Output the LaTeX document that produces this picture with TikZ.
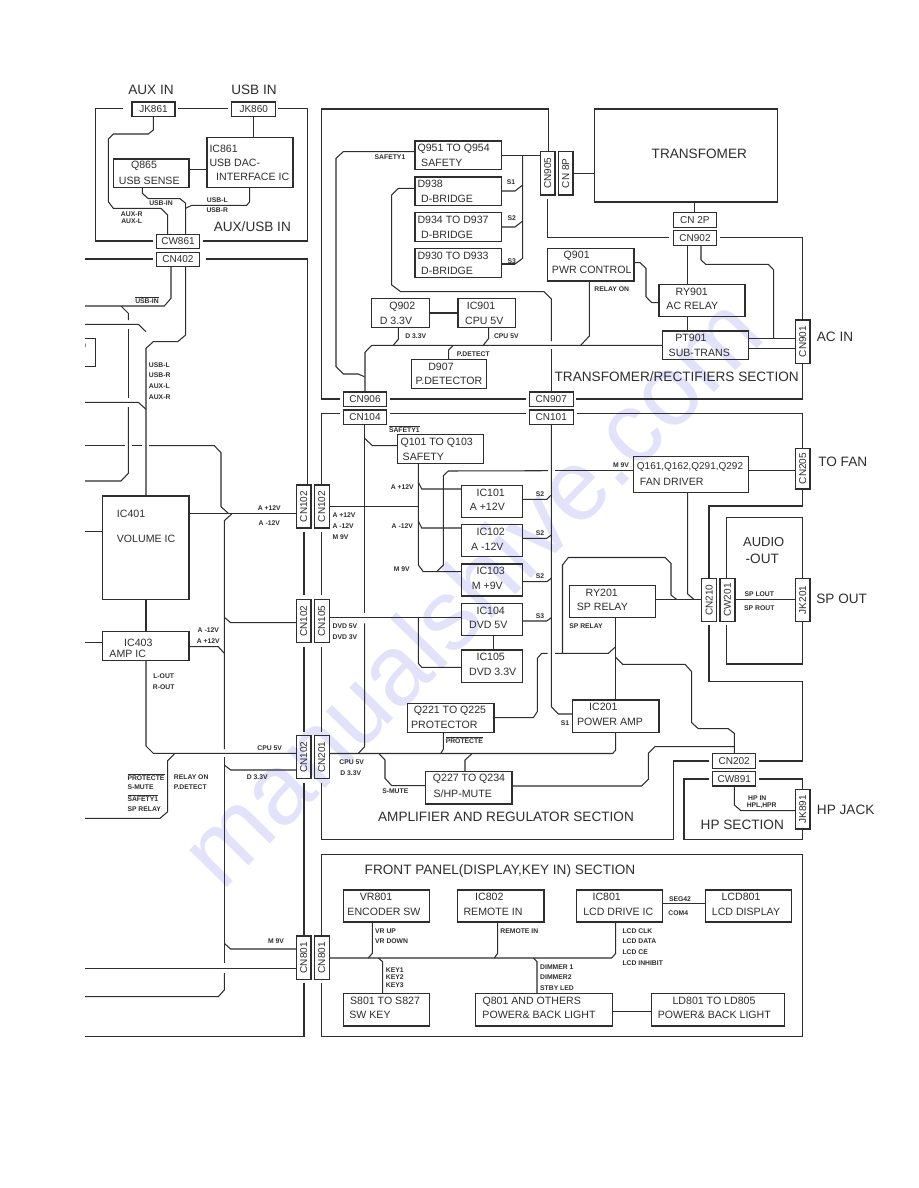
\documentclass[tikz,border=0pt]{standalone}
\usepackage{fontspec}
\usepackage{graphicx}
\newfontfamily\fm[WordSpace=1.6]{Liberation Sans}
\newfontfamily\wm{Liberation Sans}
\newcounter{tn}
\definecolor{ink}{gray}{0.18}
\definecolor{wmark}{RGB}{226,226,251}
\tikzset{
 ln/.style={draw=ink,line width=1.05pt,line join=miter},
 fr/.style={draw=ink,line width=1.05pt},
 bxst/.style={draw=ink,line width=1.15pt,inner sep=0pt,outer sep=0pt,text=ink},
 bt/.style={font=\fm\fontsize{10.6}{10.6}\selectfont,inner sep=0pt,text=ink},
 cn/.style={font=\fm\fontsize{10}{10}\selectfont},
 big/.style={font=\fm\fontsize{13.6}{13.6}\selectfont,inner sep=0pt,text=ink},
 sm/.style={font=\fm\bfseries\fontsize{6.8}{6.8}\selectfont,inner sep=0pt,text=ink},
}
\newcommand\bx[5]{\node[bxst,minimum width={#4-#2},minimum height={#5-#3}] (#1) at ({(#2+#4)/2},{(#3+#5)/2}) {};}
\newcommand\cnh[6]{\node[bxst,cn,minimum width={#4-#2},minimum height={#5-#3}] (#1) at ({(#2+#4)/2},{(#3+#5)/2}) {#6};}
\newcommand\cnv[6]{\node[bxst,cn,minimum width={#4-#2},minimum height={#5-#3}] (#1) at ({(#2+#4)/2},{(#3+#5)/2}) {\rotatebox{90}{#6}};}
\newcommand\T[4]{\stepcounter{tn}\node[#1] (t\arabic{tn}) at (#2,#3) {#4};}
\newcommand\ovl[1]{$\overline{\hbox{#1}}$}
\begin{document}
\begin{tikzpicture}[x=1pt,y=-1pt]
\useasboundingbox (0,0) rectangle (918,1188);
\fill[white] (0,0) rectangle (918,1188);
% watermark
\node[rotate=45.5,text=wmark,inner sep=0pt,font=\wm\fontsize{100}{100}\selectfont] (wmk) at (470,590) {manualshive.com};

% frames
\draw[fr] (123,108.7)--(95.7,108.7)--(95.7,241)--(153,241);
\draw[fr] (178,108.7)--(228,108.7);
\draw[fr] (278,108.7)--(307.3,108.7)--(307.3,241)--(202.7,241);
\draw[fr] (85,259)--(153,259);
\draw[fr] (206,259)--(307.3,259)--(307.3,485);
\draw[fr] (304,531.7)--(304,595);
\draw[fr] (304,646.7)--(304,731.7);
\draw[fr] (304,782.7)--(304,936);
\draw[fr] (304,982.7)--(304,1036.7)--(85,1036.7);
% amplifier frame
\draw[fr] (340,413.3)--(321.7,413.3)--(321.7,485);
\draw[fr] (321.7,531.7)--(321.7,595);
\draw[fr] (321.7,646.7)--(321.7,731.7);
\draw[fr] (321.7,782.7)--(321.7,839.3)--(673.3,839.3)--(673.3,761)--(709.3,761);
\draw[fr] (390,413.3)--(526,413.3);
\draw[fr] (576.7,413.3)--(802.3,413.3)--(802.3,448.3);
\draw[fr] (802.3,489)--(802.3,506)--(709,506)--(709,578.3);
\draw[fr] (709,625)--(709,681.7)--(802.3,681.7)--(802.3,761)--(759,761);
% front panel frame
\draw[fr] (321.7,936)--(321.7,854.3)--(802.3,854.3)--(802.3,1036.7)--(321.7,1036.7)--(321.7,982.7);
% transformer frame
\draw[fr] (548.3,151.7)--(548.3,109)--(321.7,109)--(321.7,399)--(340,399);
\draw[fr] (390,399)--(526,399);
\draw[fr] (576,399)--(802.3,399)--(802.3,363.3);
\draw[fr] (802.3,320)--(802.3,237.7)--(720,237.7);
\draw[fr] (669.3,237.7)--(547.3,237.7)--(547.3,199);
% audio frame
\draw[fr] (726.7,578.3)--(726.7,517.7)--(802.3,517.7)--(802.3,578.3);
\draw[fr] (726.7,625)--(726.7,664)--(802.3,664)--(802.3,621.7);
% HP frame
\draw[fr] (709.3,779)--(684,779)--(684,839.3)--(802.3,839.3)--(802.3,829);
\draw[fr] (802.3,789.3)--(802.3,779)--(759,779);

% connector boxes
\cnh{JKe}{132}{102}{175}{116.3}{JK861}
\cnh{JKz}{231.7}{102}{275.7}{116.3}{JK860}
\cnh{CWe}{156.7}{234.3}{199.3}{248.7}{CW861}
\cnh{CNf}{156.7}{252.3}{199.3}{266.7}{CN402}
\cnh{CNs}{343.3}{392}{386.7}{406.3}{CN906}
\cnh{CNt}{343.3}{410}{386.7}{424.3}{CN104}
\cnh{CNu}{529.3}{392}{573.3}{406.3}{CN907}
\cnh{CNv}{529.3}{410}{573.3}{424.3}{CN101}
\cnv{CNg}{540.3}{151.7}{555}{195}{CN905}
\cnv{CNp}{558.3}{151.7}{573}{195}{CN 8P}
\cnh{CNq}{673.3}{212.7}{716.3}{227.3}{CN 2P}
\cnh{CNr}{673.3}{230.7}{716.7}{245.3}{CN902}
\cnv{CNac}{795.3}{320}{810}{363.3}{CN901}
\cnv{CNfan}{795.3}{448.3}{810}{489}{CN205}
\cnv{CNa}{296.3}{485}{311}{528}{CN102}
\cnv{CNb}{314.3}{485}{329.3}{528}{CN102}
\cnv{CNc}{296.3}{599.3}{311}{642.7}{CN102}
\cnv{CNd}{314.3}{599.3}{329.3}{642.7}{CN105}
\cnv{CNi}{296.3}{735.7}{311}{778.7}{CN102}
\cnv{CNj}{314.3}{735.7}{329.3}{778.7}{CN201}
\cnv{CNk}{296.3}{936}{311}{979.3}{CN801}
\cnv{CNl}{314.3}{936}{329.3}{979.3}{CN801}
\cnv{CNm}{701.7}{578.3}{716.7}{621.7}{CN210}
\cnv{CWm}{720}{578.3}{735}{621.7}{CW201}
\cnv{JKm}{795.3}{578.3}{810}{621.7}{JK201}
\cnh{CNh}{712.7}{753.7}{755.7}{768.3}{CN202}
\cnh{CWh}{712.7}{771.7}{755.7}{786}{CW891}
\cnv{JKh}{795.3}{789.3}{810}{829}{JK891}

% function boxes
\bx{IC861}{207}{137.3}{293}{187.7}
\bx{Q865}{113.7}{159}{189}{187.7}
\bx{Q951}{415}{141}{501.7}{169.7}
\bx{D938}{415}{177}{501.7}{205.7}
\bx{D934}{415}{212.7}{501.7}{241.7}
\bx{D930}{415}{248.7}{501.7}{277.3}
\bx{Q902}{371.7}{298.7}{429.3}{327.3}
\bx{IC901}{458}{298.7}{515.7}{327.3}
\bx{D907}{411.3}{359.3}{486.7}{388.3}
\node[bxst,minimum width=183,minimum height=93] (TR) at (685.8,155.5) {};
\bx{Q901}{547.3}{248.7}{634}{281}
\bx{RY901}{659}{284.3}{745}{316.7}
\bx{PT901}{662.3}{331}{748.3}{359.7}
\bx{Q101}{397.3}{434.7}{483.3}{463.3}
\bx{IC101}{461.7}{485.3}{522.3}{517.3}
\bx{IC102}{461.7}{524.7}{522.3}{556.7}
\bx{IC103}{461.7}{564}{522.3}{596}
\bx{IC104}{461.7}{603.3}{522.3}{635.3}
\bx{IC105}{461.7}{650}{522.3}{682.3}
\bx{Q221}{407.7}{703.7}{494}{732.3}
\bx{Q227}{425.7}{771.7}{512}{804}
\bx{IC201}{572.7}{700}{659}{732.3}
\bx{RY201}{569.3}{585.3}{655.3}{617.3}
\bx{Q161}{633.7}{456.3}{748.7}{492.3}
\bx{IC401}{102.7}{496}{189}{599.3}
\bx{IC403}{102.7}{631.7}{189}{660.7}
\bx{VR801}{343.3}{890}{429.3}{922}
\bx{IC802}{457.7}{890}{544}{922}
\bx{IC801}{576.3}{890}{662.3}{922}
\bx{LCD801}{705.7}{890}{791.7}{922}
\bx{S801}{343.3}{993.7}{429.3}{1026}
\bx{Q801}{475.7}{993.7}{612.7}{1026}
\bx{LD801}{651.7}{993.7}{784.3}{1026}
% cut-off box at the left edge
\draw[ln] (85,338.3)--(95.7,338.3)--(95.7,366.7)--(85,366.7);
\begin{scope}
\clip (85,338) rectangle (95,367);
\T{bt,anchor=east}{86.5}{345.5}{D}
\end{scope}

% connectors: AUX / USB
\draw[ln] (JKe.south-|153.3,0)--(153.3,130)--(148.3,134)--(113.3,134)--(108.3,139)--(108.3,201.7)--(113.3,208.3)--(161,208.3)--(167.7,215)--(CWe.north-|167.7,0);
\draw[ln] (JKz.south-|253.7,0)--(IC861.north-|253.7,0);
\draw[ln] (Q865.east|-0,169.7)--(IC861.west|-0,169.7);
\draw[ln] (Q865.south-|142.3,0)--(142.3,193.3)--(148.3,198.7)--(180,198.7)--(185.7,203.3)--(CWe.north-|185.7,0);
\draw[ln] (IC861.south-|249.7,0)--(249.7,201.7)--(246.7,205.3)--(191.7,205.3)--(185.7,208.3);
\draw[ln] (CNf.south-|171,0)--(171,298.3)--(164.3,306)--(85,306);
\draw[ln] (CNf.south-|185.7,0)--(185.7,335)--(177.7,341.7)--(153.3,341.7)--(146,348.3)--(IC401.north-|146,0);
\draw[ln] (121,306)--(128.3,313.3)--(128.3,320);
\draw[ln] (128.3,329)--(128.3,398);
\draw[ln] (128.3,407)--(128.3,473.3)--(121,481)--(85,481);
\draw[ln] (85,324.3)--(138.3,324.3)--(146,331.7);
\draw[ln] (85,402.3)--(138.3,402.3)--(146,409.3);
\draw[ln] (85,445.7)--(125,445.7);
\draw[ln] (131.7,445.7)--(142.3,445.7);
\draw[ln] (149,445.7)--(214.3,445.7)--(221,452.7)--(221,506.7)--(228.3,513.3);
\draw[ln] (IC401.east|-0,513.7)--(CNa.west|-0,513.7);
\draw[ln] (231.7,514)--(224.3,520.7)--(224.3,749);
\draw[ln] (224.3,757)--(224.3,963);
\draw[ln] (224.3,973)--(224.3,990)--(218.3,996.7)--(85,996.7);
\draw[ln] (224.3,617.3)--(230.7,622.7)--(CNc.west|-0,622.7);
\draw[ln] (IC403.east|-0,646.7)--(218.3,646.7)--(224.3,653.3);
\draw[ln] (224.3,765)--(230.7,770)--(CNi.west|-0,770);
\draw[ln] (224.3,943.3)--(230.7,949)--(CNk.west|-0,949);
\draw[ln] (85,968.3)--(CNk.west|-0,968.3);
\draw[ln] (85,531.7)--(IC401.west|-0,531.7);
\draw[ln] (85,642.7)--(IC403.west|-0,642.7);
\draw[ln] (IC401.south-|146,0)--(IC403.north-|146,0);
\draw[ln] (IC403.south-|146,0)--(146,746)--(153.3,753.3)--(CNi.west|-0,753.3);
\draw[ln] (174.3,754)--(167.7,760.7)--(167.7,811.7)--(160,818.3)--(85,818.3);

% connectors: transformer section
\draw[ln] (Q951.east|-0,155.3)--(CNg.west|-0,155.3);
\draw[ln] (Q951.west|-0,151.7)--(343.3,151.7)--(336,158.3)--(336,366.7)--(343.3,374)--(358.3,374)--(364.3,376.7);
\draw[ln] (522.7,155.3)--(522.7,258.3)--(515,264);
\draw[ln] (D938.east|-0,191)--(515,191)--(522.7,185);
\draw[ln] (D934.east|-0,227)--(515,227)--(522.7,221);
\draw[ln] (D930.east|-0,264)--(515,264);
\draw[ln] (D938.west|-0,188.3)--(398.3,188.3)--(391.7,195)--(391.7,285)--(400.7,291.7)--(544,291.7)--(551.3,299)--(551.3,341);
\draw[ln] (551.3,349)--(CNu.north-|551.3,0);
\draw[ln] (Q902.east|-0,313)--(IC901.west|-0,313);
\draw[ln] (Q902.south-|398.3,0)--(398.3,339.3)--(393.3,345.3);
\draw[ln] (IC901.south-|488.7,0)--(488.7,338.3)--(483.3,345.3);
\draw[ln] (D907.north-|448.7,0)--(448.7,350)--(453.3,345.3);
\draw[ln] (PT901.west|-0,345.3)--(371.7,345.3)--(365,352.3)--(CNs.north-|365,0);
\draw[ln] (Q901.south-|589.3,0)--(589.3,336)--(580.7,345.3);
\draw[ln] (TR.south-|694.7,0)--(CNq.north-|694.7,0);
\draw[ln] (CNp.east|-0,173.3)--(TR.west|-0,173.3);
\draw[ln] (CNr.south-|687.7,0)--(RY901.north-|687.7,0);
\draw[ln] (RY901.south-|687.7,0)--(PT901.north-|687.7,0);
\draw[ln] (CNr.south-|701,0)--(701,260)--(705.7,264.3)--(768.3,264.3)--(773.7,270)--(773.7,338.3);
\draw[ln] (PT901.east|-0,338.3)--(CNac.west|-0,338.3);
\draw[ln] (PT901.east|-0,348.7)--(CNac.west|-0,348.7);
\draw[ln] (Q901.east|-0,262.7)--(640,262.7)--(646,268.3)--(646,296.7)--(651.7,302.7)--(RY901.west|-0,302.7);

% connectors: amplifier section
\draw[ln] (CNt.south-|364.7,0)--(364.7,613);
\draw[ln] (364.7,623.3)--(364.7,746.7)--(358.3,753.3);
\draw[ln] (364.7,438.3)--(372.3,445.7)--(Q101.west|-0,445.7);
\draw[ln] (CNb.east|-0,506.7)--(418.3,506.7);
\draw[ln] (Q101.south-|418.3,0)--(418.3,565)--(423.3,571.7)--(IC103.west|-0,571.7);
\draw[ln] (418.3,482)--(421.7,489)--(IC101.west|-0,489);
\draw[ln] (418.3,521)--(421.7,528)--(IC102.west|-0,528);
\draw[ln] (Q161.west|-0,470.7)--(555,470.7);
\draw[ln] (548,470.7)--(448.3,471)--(443.3,475.7)--(443.3,565)--(436.7,571.7);
\draw[ln] (CNd.east|-0,617.7)--(IC104.west|-0,617.7);
\draw[ln] (418.3,617.7)--(418.3,663.3)--(421.7,667.3)--(IC105.west|-0,667.3);
\draw[ln] (IC104.south-|493.7,0)--(IC105.north-|493.7,0);
\draw[ln] (CNv.south-|551.3,0)--(551.3,706.7)--(558.3,714)--(IC201.west|-0,714);
\draw[ln] (IC101.east|-0,499.3)--(546.7,499.3)--(551.3,495);
\draw[ln] (IC102.east|-0,538.3)--(546.7,538.3)--(551.3,535);
\draw[ln] (IC103.east|-0,581.7)--(546.7,581.7)--(551.3,578.3);
\draw[ln] (IC104.east|-0,621)--(546.7,621)--(551.3,617.7);
\draw[ln] (Q221.east|-0,717.7)--(533.3,717.7)--(537.3,711.7)--(537.3,658.3)--(541.7,653.3)--(547.7,653.3);
\draw[ln] (555,653.3)--(608.3,653.3)--(615.7,646.7);
\draw[ln] (562.5,653.3)--(562.5,565)--(568.3,557.5)--(665,557.5)--(671,563.3)--(671,595)--(676.7,599.5);
\draw[ln] (RY201.east|-0,599.5)--(CNm.west|-0,599.5);
\draw[ln] (Q161.south-|687.7,0)--(687.7,594)--(694,599.5);
\draw[ln] (RY201.south-|615.7,0)--(IC201.north-|615.7,0);
\draw[ln] (615.7,657.3)--(622.7,664.3)--(685,664.3)--(691.7,671.7)--(691.7,722.7)--(698.3,728.7)--(728.3,728.7)--(734.3,733.3)--(CNh.north-|734.3,0);
\draw[ln] (IC201.south-|615.7,0)--(615.7,750)--(612.7,753.5)--(CNj.east|-0,753.5);
\draw[ln] (Q227.east|-0,786)--(641.7,786)--(648.3,779.3)--(648.3,753.3)--(655,746.7)--(734.3,746.7);
\draw[ln] (Q221.south-|443.3,0)--(443.3,749.3)--(440.7,753.5);
\draw[ln] (Q227.north-|465,0)--(465,760)--(471.7,754);
\draw[ln] (379.3,754)--(385,760)--(385,778.3)--(391.7,785.7)--(Q227.west|-0,785.7);
\draw[ln] (Q161.east|-0,470.7)--(CNfan.west|-0,470.7);
\draw[ln] (CWm.east|-0,599.7)--(JKm.west|-0,599.7);
\draw[ln] (CWh.south-|734.3,0)--(734.3,805)--(741,810.7)--(JKh.west|-0,810.7);

% connectors: front panel
\draw[ln] (CNl.east|-0,958)--(611.7,958)--(615.7,953.3)--(IC801.south-|615.7,0);
\draw[ln] (VR801.south-|372.3,0)--(372.3,953.3)--(368.3,958);
\draw[ln] (S801.north-|382.7,0)--(382.7,961.7)--(378.3,958);
\draw[ln] (IC802.south-|497.7,0)--(497.7,953.3)--(494.3,958);
\draw[ln] (Q801.north-|537,0)--(537,961.7)--(533.3,958);
\draw[ln] (IC801.east|-0,903.7)--(LCD801.west|-0,903.7);
\draw[ln] (Q801.east|-0,1011.7)--(LD801.west|-0,1011.7);

% section and port titles
\T{big}{151}{90}{AUX IN}
\T{big}{254}{90}{USB IN}
\T{big}{252.3}{226.3}{AUX/USB IN}
\T{big}{699.3}{154.3}{TRANSFOMER}
\T{big}{835}{337.3}{AC IN}
\T{big}{842.7}{462.3}{TO FAN}
\T{big}{841.7}{599}{SP OUT}
\T{big}{845.7}{810}{HP JACK}
\T{big}{676.7}{376.7}{TRANSFOMER/RECTIFIERS SECTION}
\T{big}{506}{817}{AMPLIFIER AND REGULATOR SECTION}
\T{big}{742.3}{824.7}{HP SECTION}
\T{big,font=\fm\fontsize{13}{13}\selectfont}{763.7}{541.7}{AUDIO}
\T{big}{762.3}{559.3}{-OUT}
\T{big}{500}{871}{FRONT PANEL(DISPLAY,KEY IN) SECTION}

% box texts
\T{bt,anchor=west}{209.3}{148.7}{IC861}
\T{bt,anchor=west}{209.3}{162.7}{USB DAC-}
\T{bt,anchor=west}{216}{177}{INTERFACE IC}
\T{bt}{144}{166.3}{Q865}
\T{bt}{149.3}{181}{USB SENSE}
\T{bt,anchor=west}{417.3}{148.7}{Q951 TO Q954}
\T{bt,anchor=west}{421}{163}{SAFETY}
\T{bt,anchor=west}{417.3}{184.3}{D938}
\T{bt,anchor=west}{421}{198.7}{D-BRIDGE}
\T{bt,anchor=west}{417.3}{220.3}{D934 TO D937}
\T{bt,anchor=west}{421}{234.7}{D-BRIDGE}
\T{bt,anchor=west}{417.3}{256}{D930 TO D933}
\T{bt,anchor=west}{421}{270.7}{D-BRIDGE}
\T{bt}{402.3}{306.3}{Q902}
\T{bt}{396}{321}{D 3.3V}
\T{bt}{481}{306.3}{IC901}
\T{bt}{484.3}{321}{CPU 5V}
\T{bt}{441}{367}{D907}
\T{bt}{449}{381.3}{P.DETECTOR}
\T{bt}{576.7}{256}{Q901}
\T{bt}{591.7}{270.3}{PWR CONTROL}
\T{bt}{691.7}{292}{RY901}
\T{bt}{692.3}{306.3}{AC RELAY}
\T{bt}{691}{338.3}{PT901}
\T{bt}{699.3}{353}{SUB-TRANS}
\T{bt}{436.7}{442.3}{Q101 TO Q103}
\T{bt}{423.3}{456.7}{SAFETY}
\T{bt}{490.7}{492.7}{IC101}
\T{bt}{487.3}{507}{A +12V}
\T{bt}{490.7}{532}{IC102}
\T{bt}{487.3}{546.3}{A -12V}
\T{bt}{490.7}{571.3}{IC103}
\T{bt}{487.3}{585.7}{M +9V}
\T{bt}{490.7}{610.7}{IC104}
\T{bt}{488.3}{625.3}{DVD 5V}
\T{bt}{490.7}{657.3}{IC105}
\T{bt}{492.7}{672}{DVD 3.3V}
\T{bt}{450}{711}{Q221 TO Q225}
\T{bt}{444.3}{725}{PROTECTOR}
\T{bt}{469}{779}{Q227 TO Q234}
\T{bt}{462.7}{793.3}{S/HP-MUTE}
\T{bt}{601.7}{593}{RY201}
\T{bt}{602.3}{607.3}{SP RELAY}
\T{bt}{603.3}{707.3}{IC201}
\T{bt}{610}{722}{POWER AMP}
\T{bt,font=\fm\fontsize{10}{10}\selectfont}{690}{467.3}{Q161,Q162,Q291,Q292}
\T{bt}{671.7}{481.7}{FAN DRIVER}
\T{bt,anchor=west}{116.7}{514}{IC401}
\T{bt,anchor=west}{116.7}{539.3}{VOLUME IC}
\T{bt}{138.3}{642.7}{IC403}
\T{bt}{127.7}{653.7}{AMP IC}
\T{bt}{376}{897.3}{VR801}
\T{bt}{384}{911.7}{ENCODER SW}
\T{bt}{489.3}{897.3}{IC802}
\T{bt}{493}{911.7}{REMOTE IN}
\T{bt}{606.7}{897.3}{IC801}
\T{bt}{618.3}{911.7}{LCD DRIVE IC}
\T{bt}{741}{897.3}{LCD801}
\T{bt}{746}{911.7}{LCD DISPLAY}
\T{bt}{385}{1001.3}{S801 TO S827}
\T{bt}{370}{1015.3}{SW KEY}
\T{bt}{531.7}{1001.3}{Q801 AND OTHERS}
\T{bt}{539}{1015.3}{POWER\& BACK LIGHT}
\T{bt}{714}{1001.3}{LD801 TO LD805}
\T{bt}{714.3}{1015.3}{POWER\& BACK LIGHT}

% small signal labels
\T{sm}{161}{203.3}{USB-IN}
\T{sm}{147}{300}{\ovl{USB-IN}}
\T{sm}{217.3}{200}{USB-L}
\T{sm}{217.3}{210.3}{USB-R}
\T{sm}{131.7}{214}{AUX-R}
\T{sm}{131.7}{221}{AUX-L}
\T{sm,anchor=west}{148.7}{364.7}{USB-L}
\T{sm,anchor=west}{148.7}{375.3}{USB-R}
\T{sm,anchor=west}{148.7}{386}{AUX-L}
\T{sm,anchor=west}{148.7}{396.7}{AUX-R}
\T{sm}{390}{156.7}{SAFETY1}
\T{sm}{511}{182}{S1}
\T{sm}{511.7}{217.7}{S2}
\T{sm}{511.7}{261}{S3}
\T{sm}{415.7}{336}{D 3.3V}
\T{sm}{506.3}{336}{CPU 5V}
\T{sm}{473.3}{354}{P.DETECT}
\T{sm}{611.7}{289.3}{RELAY ON}
\T{sm}{269.3}{508.3}{A +12V}
\T{sm}{269.3}{522.7}{A -12V}
\T{sm,anchor=west}{332.3}{515.3}{A +12V}
\T{sm,anchor=west}{332.3}{525.7}{A -12V}
\T{sm,anchor=west}{332.3}{536.7}{M 9V}
\T{sm}{345}{626}{DVD 5V}
\T{sm}{345}{636.7}{DVD 3V}
\T{sm}{208.3}{630}{A -12V}
\T{sm}{208.3}{640.7}{A +12V}
\T{sm}{163.7}{676.3}{L-OUT}
\T{sm}{163.7}{687}{R-OUT}
\T{sm}{269.7}{748}{CPU 5V}
\T{sm}{257.3}{776.7}{D 3.3V}
\T{sm}{351.7}{762.3}{CPU 5V}
\T{sm}{350.7}{773}{D 3.3V}
\T{sm,anchor=west}{127.3}{776.7}{\ovl{PROTECTE}}
\T{sm,anchor=west}{127.3}{787.3}{S-MUTE}
\T{sm,anchor=west}{127.3}{798}{\ovl{SAFETY1}}
\T{sm,anchor=west}{127.3}{808.7}{SP RELAY}
\T{sm,anchor=west}{173.7}{776.7}{RELAY ON}
\T{sm,anchor=west}{173.7}{787.3}{P.DETECT}
\T{sm}{404.3}{429.3}{\ovl{SAFETY1}}
\T{sm}{402.3}{486.7}{A +12V}
\T{sm}{402.3}{526}{A -12V}
\T{sm}{401.7}{569.3}{M 9V}
\T{sm}{540}{494}{S2}
\T{sm}{540}{533.3}{S2}
\T{sm}{540}{576}{S2}
\T{sm}{540}{615.7}{S3}
\T{sm}{565}{722.7}{S1}
\T{sm}{464.3}{740.3}{\ovl{PROTECTE}}
\T{sm}{395.3}{791}{S-MUTE}
\T{sm}{586}{626}{SP RELAY}
\T{sm}{621}{465}{M 9V}
\T{sm}{759.3}{594}{SP LOUT}
\T{sm}{759.3}{608.3}{SP ROUT}
\T{sm}{757.3}{798.3}{HP IN}
\T{sm}{761.7}{805.3}{HPL,HPR}
\T{sm,anchor=west}{375}{930.7}{VR UP}
\T{sm,anchor=west}{375}{941.3}{VR DOWN}
\T{sm,anchor=west}{385.7}{970}{KEY1}
\T{sm,anchor=west}{385.7}{977.3}{KEY2}
\T{sm,anchor=west}{385.7}{984.7}{KEY3}
\T{sm}{519.3}{930.7}{REMOTE IN}
\T{sm}{276}{941.3}{M 9V}
\T{sm,anchor=west}{622.3}{930.7}{LCD CLK}
\T{sm,anchor=west}{622.3}{941.3}{LCD DATA}
\T{sm,anchor=west}{622.3}{952}{LCD CE}
\T{sm,anchor=west}{622.3}{962.7}{LCD INHIBIT}
\T{sm}{680}{898.7}{SEG42}
\T{sm}{678.3}{912.7}{COM4}
\T{sm,anchor=west}{540}{966.7}{DIMMER 1}
\T{sm,anchor=west}{540}{977.3}{DIMMER2}
\T{sm,anchor=west}{540}{988}{STBY LED}
\end{tikzpicture}
\end{document}
